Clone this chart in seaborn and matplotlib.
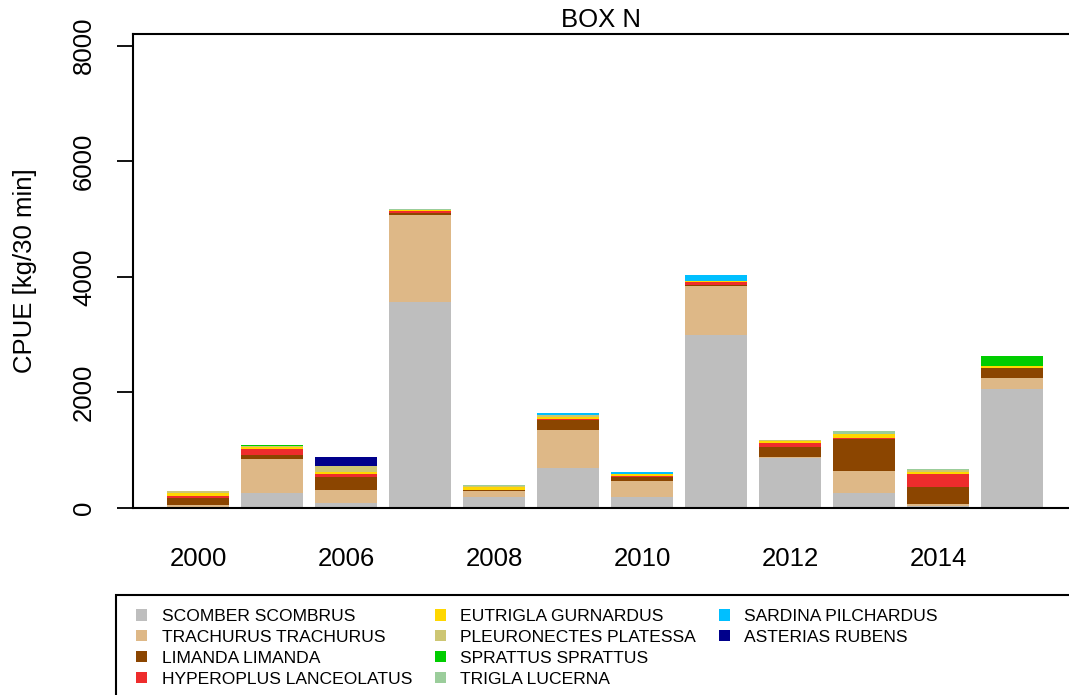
import numpy as np
import pandas as pd
import matplotlib
matplotlib.use("Agg")
import matplotlib.pyplot as plt
import seaborn as sns
from matplotlib.patches import Patch, Rectangle

# ─── data (CPUE kg/30 min) ──────────────────────────────────────────────────
years = ["2000", "2005", "2006", "2007", "2008", "2009",
         "2010", "2011", "2012", "2013", "2014", "2015"]
shown_labels = ["2000", "", "2006", "", "2008", "", "2010", "", "2012", "", "2014", ""]

species = ["SCOMBER SCOMBRUS", "TRACHURUS TRACHURUS", "LIMANDA LIMANDA",
           "HYPEROPLUS LANCEOLATUS", "EUTRIGLA GURNARDUS", "PLEURONECTES PLATESSA",
           "SPRATTUS SPRATTUS", "TRIGLA LUCERNA", "SARDINA PILCHARDUS", "ASTERIAS RUBENS"]
colours = ["#bebebe", "#deb887", "#8b4500", "#ee2c2c", "#ffd700",
           "#cdc673", "#00cd00", "#9bcd9b", "#00bfff", "#00008b"]

scomber      = [10, 260, 81, 3556, 196, 693, 196, 2996, 866, 266, 40, 2055]
trachurus    = [46, 589, 237, 1507, 92, 664, 271, 849, 10, 375, 23, 196]
limanda      = [115, 69, 214, 40, 29, 167, 75, 17, 173, 554, 294, 173]
hyperoplus   = [40, 98, 58, 29, 0, 8, 10, 40, 75, 23, 237, 0]
eutrigla     = [40, 46, 29, 23, 45, 40, 40, 23, 29, 63, 29, 29]
pleuronectes = [46, 10, 115, 0, 13, 35, 0, 0, 15, 0, 30, 0]
sprattus     = [0, 17, 0, 0, 10, 0, 0, 0, 0, 0, 0, 173]
trigla       = [0, 0, 0, 23, 20, 0, 0, 0, 14, 46, 16, 10]
sardina      = [0, 0, 0, 0, 0, 29, 29, 98, 0, 0, 0, 0]
asterias     = [0, 0, 150, 0, 0, 0, 0, 0, 0, 0, 0, 0]

df = pd.DataFrame({"year": years}).assign(**dict(zip(species, [
    scomber, trachurus, limanda, hyperoplus, eutrigla,
    pleuronectes, sprattus, trigla, sardina, asterias])))

# ─── figure ─────────────────────────────────────────────────────────────────
sns.set_style("white")
plt.rcParams["font.family"] = ["Liberation Sans", "DejaVu Sans"]
plt.rcParams.update({"text.color": "black", "axes.labelcolor": "black",
                     "xtick.color": "black", "ytick.color": "black"})

fig = plt.figure(figsize=(10.69, 6.95), dpi=100)
ax = fig.add_axes([133 / 1069, 187 / 695, 936 / 1069, 474 / 695])

# stacked bars: draw cumulative totals from the top layer down
cum = df[species].cumsum(axis=1)
for sp, col in reversed(list(zip(species, colours))):
    sns.barplot(x=df["year"], y=cum[sp], color=col, saturation=1,
                width=0.833, errorbar=None, linewidth=0, ax=ax)

# ─── axes styling ───────────────────────────────────────────────────────────
ax.set_xlim((133 - 198) / 74, (1069 - 198) / 74)
ax.set_ylim(0, 8200)
ax.set_yticks([0, 2000, 4000, 6000, 8000])
ax.set_xticks(range(len(years)))
ax.set_xticklabels(shown_labels)
ax.tick_params(axis="x", length=0, pad=28, labelsize=18.5, labelcolor="black")
ax.tick_params(axis="y", length=11.5, width=1.3, pad=15, labelsize=18.5,
               labelrotation=90, left=True, color="black", labelcolor="black")
for lab in ax.get_yticklabels():
    lab.set_va("center")
ax.set_xlabel("")
ax.set_ylabel("CPUE [kg/30 min]", fontsize=18.5, labelpad=25, color="black")
ax.set_title("BOX N", fontsize=18.5, pad=5, color="black")

for side in ["left", "top", "bottom"]:
    ax.spines[side].set_visible(True)
    ax.spines[side].set_color("black")
    ax.spines[side].set_linewidth(1.5)
ax.spines["right"].set_visible(False)

# ─── legend (R style, box runs off the bottom) ──────────────────────────────
handles = [Patch(facecolor=c, edgecolor="none") for c in colours]
labels = list(species)
blank = Patch(facecolor="none", edgecolor="none")
handles += [blank, blank]
labels += ["", ""]
fig.legend(handles, labels, ncol=3, loc="upper left",
           bbox_to_anchor=(136 / 1069, 1 - 609 / 695), frameon=False,
           fontsize=12.6, handlelength=0.62, handleheight=0.62, handletextpad=0.85,
           labelspacing=0.34, columnspacing=1.29, borderaxespad=0, borderpad=0)
fig.patches.append(Rectangle((116 / 1069, -0.05), (1083 - 116) / 1069,
                             1 - 595 / 695 + 0.05, transform=fig.transFigure,
                             facecolor="none", edgecolor="black", linewidth=1.5))

fig.savefig("out.png", dpi=100)
